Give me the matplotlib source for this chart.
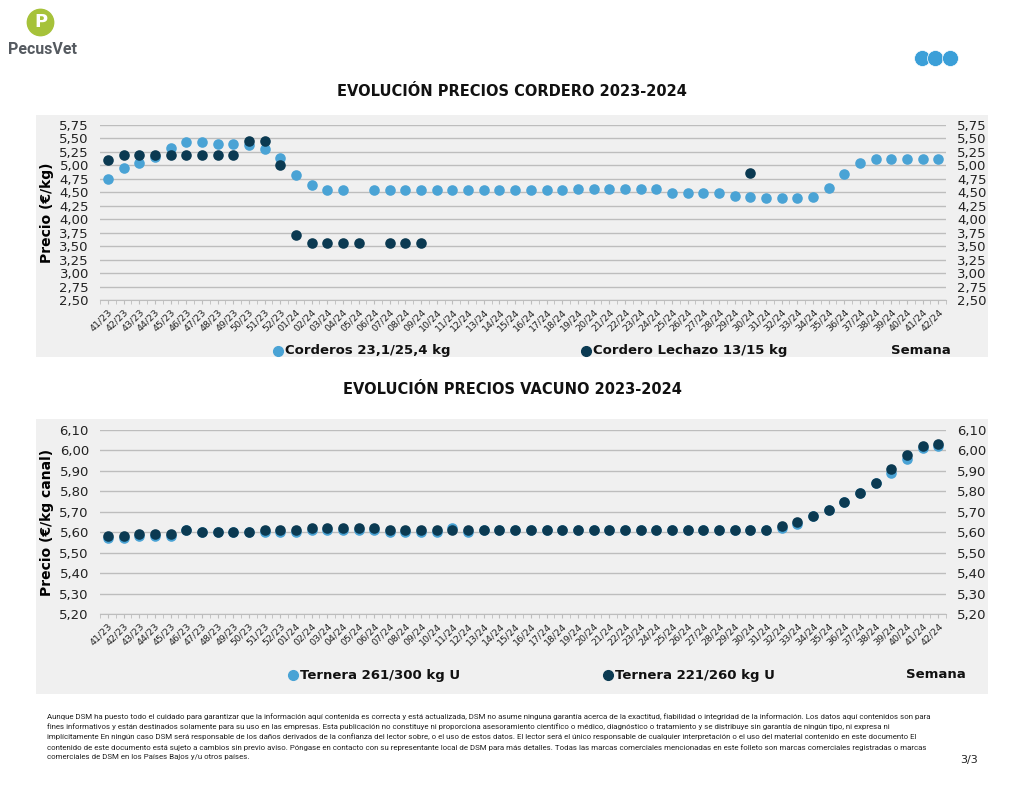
import matplotlib.pyplot as plt
import numpy as np
from matplotlib.patches import Rectangle
from matplotlib.lines import Line2D
from matplotlib.ticker import FuncFormatter

nan = np.nan

# weeks 41/23 .. 42/24
semanas = ['%02d/23' % w for w in range(41, 53)] + ['%02d/24' % w for w in range(1, 43)]

# Cordero (€/kg)
corderos = [4.75, 4.95, 5.05, 5.15, 5.32, 5.43, 5.43, 5.40, 5.40, 5.38, 5.30, 5.13,
            4.83, 4.63, 4.55, 4.55, nan, 4.55, 4.55, 4.55, 4.55, 4.55, 4.55, 4.55,
            4.55, 4.55, 4.55, 4.55, 4.55, 4.55, 4.57, 4.57, 4.57, 4.57, 4.57, 4.57,
            4.48, 4.48, 4.48, 4.48, 4.44, 4.42, 4.39, 4.39, 4.39, 4.42, 4.58, 4.84,
            5.04, 5.12, 5.12, 5.12, 5.12, 5.12]
lechazo = [5.10, 5.20, 5.20, 5.20, 5.20, 5.20, 5.20, 5.20, 5.20, 5.45, 5.45, 5.00,
           3.70, 3.55, 3.55, 3.55, 3.55, nan, 3.55, 3.55, 3.55, nan, nan, nan,
           nan, nan, nan, nan, nan, nan, nan, nan, nan, nan, nan, nan,
           nan, nan, nan, nan, nan, 4.85, nan, nan, nan, nan, nan, nan,
           nan, nan, nan, nan, nan, nan]

# Vacuno (€/kg canal)
ternera_261 = [5.57, 5.57, 5.58, 5.58, 5.58, 5.61, 5.60, 5.60, 5.60, 5.60, 5.60, 5.60,
               5.60, 5.61, 5.61, 5.61, 5.61, 5.61, 5.60, 5.60, 5.60, 5.60, 5.62, 5.60,
               5.61, 5.61, 5.61, 5.61, 5.61, 5.61, 5.61, 5.61, 5.61, 5.61, 5.61, 5.61,
               5.61, 5.61, 5.61, 5.61, 5.61, 5.61, 5.61, 5.62, 5.64, 5.68, 5.71, 5.75,
               5.79, 5.84, 5.89, 5.96, 6.01, 6.02]
ternera_221 = [5.58, 5.58, 5.59, 5.59, 5.59, 5.61, 5.60, 5.60, 5.60, 5.60, 5.61, 5.61,
               5.61, 5.62, 5.62, 5.62, 5.62, 5.62, 5.61, 5.61, 5.61, 5.61, 5.61, 5.61,
               5.61, 5.61, 5.61, 5.61, 5.61, 5.61, 5.61, 5.61, 5.61, 5.61, 5.61, 5.61,
               5.61, 5.61, 5.61, 5.61, 5.61, 5.61, 5.61, 5.63, 5.65, 5.68, 5.71, 5.75,
               5.79, 5.84, 5.91, 5.98, 6.02, 6.03]

claro = '#4aa3d5'
oscuro = '#0b3a52'
gris_fondo = '#f0f0f0'
W, H = 1024, 791

fig = plt.figure(figsize=(W / 100, H / 100), dpi=100)
fig.patch.set_facecolor('white')


def fx(px):
    return px / W


def fy(py):
    return 1 - py / H


# grey panels
for top, bot in [(115, 357), (419, 694)]:
    fig.patches.append(Rectangle((fx(36), fy(bot)), fx(988) - fx(36), fy(top) - fy(bot),
                                 transform=fig.transFigure, facecolor=gris_fondo,
                                 edgecolor='none', zorder=-5))

coma = FuncFormatter(lambda v, p: ('%.2f' % v).replace('.', ','))


def panel(rect, s1, s2, ymin, ymax, step, ylabel):
    ax = fig.add_axes(rect, zorder=2)
    ax.set_facecolor('none')
    x = np.arange(len(semanas))
    ax.scatter(x, s1, s=58, color=claro, zorder=3, linewidths=0)
    ax.scatter(x, s2, s=58, color=oscuro, zorder=4, linewidths=0)
    ax.set_xlim(-0.5, len(semanas) - 0.5)
    ax.set_ylim(ymin, ymax)
    ax.set_yticks(np.arange(ymin, ymax + step / 2, step))
    ax.yaxis.set_major_formatter(coma)
    ax.grid(axis='y', color='#bdbdbd', lw=1)
    ax.set_axisbelow(True)
    for s in ['top', 'left', 'right']:
        ax.spines[s].set_visible(False)
    ax.spines['bottom'].set_color('#bdbdbd')
    ax.set_xticks(x)
    ax.set_xticklabels(semanas, rotation=45, ha='right', rotation_mode='anchor',
                       fontsize=6.8, color='#222222')
    ax.set_xticks(np.arange(-0.5, len(semanas), 1), minor=True)
    ax.tick_params(axis='x', which='both', length=3, color='#bdbdbd', pad=2)
    ax.tick_params(axis='y', length=0, labelsize=9.5, labelright=True,
                   labelcolor='#222222', pad=8)
    ax.set_ylabel(ylabel, fontsize=10, fontweight='bold')
    return ax


ax1 = panel([fx(100), fy(300), fx(946) - fx(100), fy(125) - fy(300)],
            corderos, lechazo, 2.50, 5.75, 0.25, 'Precio (€/kg)')
ax2 = panel([fx(100), fy(614), fx(946) - fx(100), fy(430) - fy(614)],
            ternera_261, ternera_221, 5.20, 6.10, 0.10, 'Precio (€/kg canal)')
ax1.yaxis.set_label_coords(-0.054, 0.5)
ax2.yaxis.set_label_coords(-0.054, 0.5)

# titles
fig.text(0.5, fy(91), 'EVOLUCIÓN PRECIOS CORDERO 2023-2024', ha='center', va='center',
         fontsize=10.5, fontweight='bold', color='#111111')
fig.text(0.5, fy(389), 'EVOLUCIÓN PRECIOS VACUNO 2023-2024', ha='center', va='center',
         fontsize=10.5, fontweight='bold', color='#111111')


# legends
def leyenda(px, py, color, texto):
    fig.add_artist(Line2D([fx(px)], [fy(py)], marker='o', color=color, markersize=7,
                          transform=fig.transFigure, linestyle='none'))
    fig.text(fx(px + 7), fy(py), texto, ha='left', va='center', fontsize=9.5,
             fontweight='bold', color='#111111')


leyenda(278, 351, claro, 'Corderos 23,1/25,4 kg')
leyenda(586, 351, oscuro, 'Cordero Lechazo 13/15 kg')
fig.text(fx(951), fy(351), 'Semana', ha='right', va='center', fontsize=9.5,
         fontweight='bold', color='#111111')
leyenda(293, 675, claro, 'Ternera 261/300 kg U')
leyenda(608, 675, oscuro, 'Ternera 221/260 kg U')
fig.text(fx(966), fy(675), 'Semana', ha='right', va='center', fontsize=9.5,
         fontweight='bold', color='#111111')

# logo
fig.add_artist(Line2D([fx(40)], [fy(22)], marker='o', markersize=19, color='#a6c23a',
                      linestyle='none', transform=fig.transFigure))
fig.text(fx(41), fy(22), 'P', ha='center', va='center', fontsize=13, fontweight='bold',
         color='white')
fig.text(fx(8), fy(49), 'PecusVet', ha='left', va='center', fontsize=11.5,
         fontweight='bold', color='#555a60', family=['Roboto', 'DejaVu Sans'])

# top-right circles
for cx in [922, 935, 950]:
    fig.add_artist(Line2D([fx(cx)], [fy(58)], marker='o', markersize=11.5,
                          color='#3b9fd8', markeredgecolor='white', markeredgewidth=0.5,
                          linestyle='none', transform=fig.transFigure))

# footer
pie = ("Aunque DSM ha puesto todo el cuidado para garantizar que la información aquí contenida es correcta y está actualizada, DSM no asume ninguna garantía acerca de la exactitud, fiabilidad o integridad de la información. Los datos aquí contenidos son para\n"
       "fines informativos y están destinados solamente para su uso en las empresas. Esta publicación no constituye ni proporciona asesoramiento científico o médico, diagnóstico o tratamiento y se distribuye sin garantía de ningún tipo, ni expresa ni\n"
       "implícitamente En ningún caso DSM será responsable de los daños derivados de la confianza del lector sobre, o el uso de estos datos. El lector será el único responsable de cualquier interpretación o el uso del material contenido en este documento El\n"
       "contenido de este documento está sujeto a cambios sin previo aviso. Póngase en contacto con su representante local de DSM para más detalles. Todas las marcas comerciales mencionadas en este folleto son marcas comerciales registradas o marcas\n"
       "comerciales de DSM en los Países Bajos y/u otros países.")
fig.text(fx(47), fy(713), pie, ha='left', va='top', fontsize=5.7, color='#222222',
         linespacing=1.6, family=['Roboto', 'DejaVu Sans'])
fig.text(fx(978), fy(760), '3/3', ha='right', va='center', fontsize=8, color='#222222')

fig.savefig('out.png', dpi=100)
